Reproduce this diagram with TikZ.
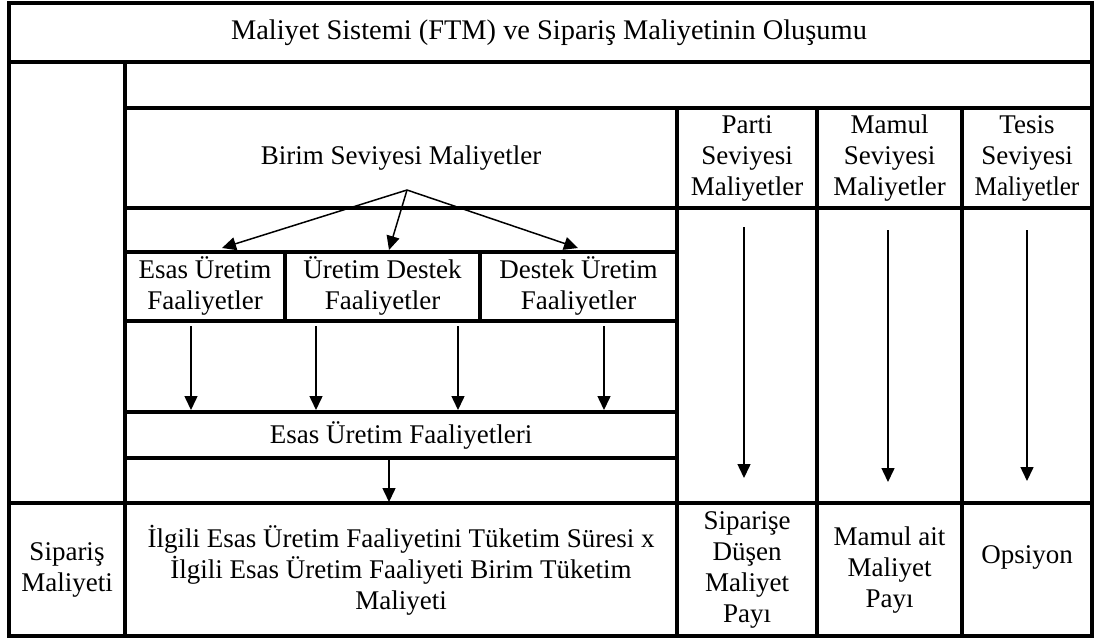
\documentclass[tikz,border=0pt]{standalone}
\usepackage{fontspec}
\setmainfont{Liberation Serif}
\usetikzlibrary{arrows.meta}
\begin{document}
\begin{tikzpicture}[x=1pt,y=-1pt,
  grid/.style={line width=3.2pt,line cap=rect},
  arr/.style={line width=1.5pt,-{Triangle[width=13pt,length=14pt]}},
  lbl/.style={font=\fontsize{27}{31}\selectfont,align=center,inner sep=0pt}]
\useasboundingbox (0,0) rectangle (1094,638);
% table grid
\draw[grid] (9,3) rectangle (1092,636);
\draw[grid] (9,62) -- (1092,62);
\draw[grid] (125,62) -- (125,636);
\draw[grid] (125,108) -- (1092,108);
\draw[grid] (125,208) -- (1092,208);
\foreach \x in {677,817,962} \draw[grid] (\x,108) -- (\x,636);
\foreach \y in {252,321,412,458} \draw[grid] (125,\y) -- (677,\y);
\foreach \x in {285,480} \draw[grid] (\x,252) -- (\x,321);
\draw[grid] (9,503) -- (1092,503);
% texts
\node[lbl,font=\fontsize{28.4}{32}\selectfont] (title) at (549,33) {Maliyet Sistemi (FTM) ve Sipariş Maliyetinin Oluşumu};
\node[lbl] (birim) at (401,158) {Birim Seviyesi Maliyetler};
\node[lbl] (parti) at (747,158) {Parti\\Seviyesi\\Maliyetler};
\node[lbl] (mamul) at (889.5,158) {Mamul\\Seviyesi\\Maliyetler};
\node[lbl] (tesis) at (1027,158) {Tesis\\Seviyesi\\\scalebox{0.93}[1]{Maliyetler}};
\node[lbl] (esas) at (205,286) {Esas Üretim\\Faaliyetler};
\node[lbl] (uretim) at (382.5,286) {Üretim Destek\\Faaliyetler};
\node[lbl] (destek) at (578.5,286) {Destek Üretim\\Faaliyetler};
\node[lbl] (efaal) at (401,435) {Esas Üretim Faaliyetleri};
\node[lbl] (sip) at (67,570) {Sipariş\\Maliyeti};
\node[lbl] (ilgili) at (401,570) {İlgili Esas Üretim Faaliyetini Tüketim Süresi x\\İlgili Esas Üretim Faaliyeti Birim Tüketim\\Maliyeti};
\node[lbl] (spay) at (747,570) {Siparişe\\Düşen\\Maliyet\\Payı};
\node[lbl] (mpay) at (889.5,570) {Mamul ait\\Maliyet\\Payı};
\node[lbl] (ops) at (1027,557) {Opsiyon};
% arrow points
\coordinate (bo) at (407,190);
\coordinate (t1) at (222,248);
\coordinate (t2) at (389,250);
\coordinate (t3) at (578,248);
\draw[arr] (bo) -- (t1);
\draw[arr] (bo) -- (t2);
\draw[arr] (bo) -- (t3);
\foreach \x [count=\i] in {191,316,458,604} {
  \coordinate (s\i) at (\x,326);
  \coordinate (e\i) at (\x,410);
  \draw[arr] (s\i) -- (e\i);
}
\coordinate (fs) at (389,460);
\coordinate (fe) at (389,502);
\draw[arr] (fs) -- (fe);
\coordinate (ps) at (744,227);
\coordinate (pe) at (744,478);
\coordinate (ms) at (888,230);
\coordinate (me) at (888,482);
\coordinate (ts) at (1027,230);
\coordinate (te) at (1027,481);
\draw[arr] (ps) -- (pe);
\draw[arr] (ms) -- (me);
\draw[arr] (ts) -- (te);
\end{tikzpicture}
\end{document}
